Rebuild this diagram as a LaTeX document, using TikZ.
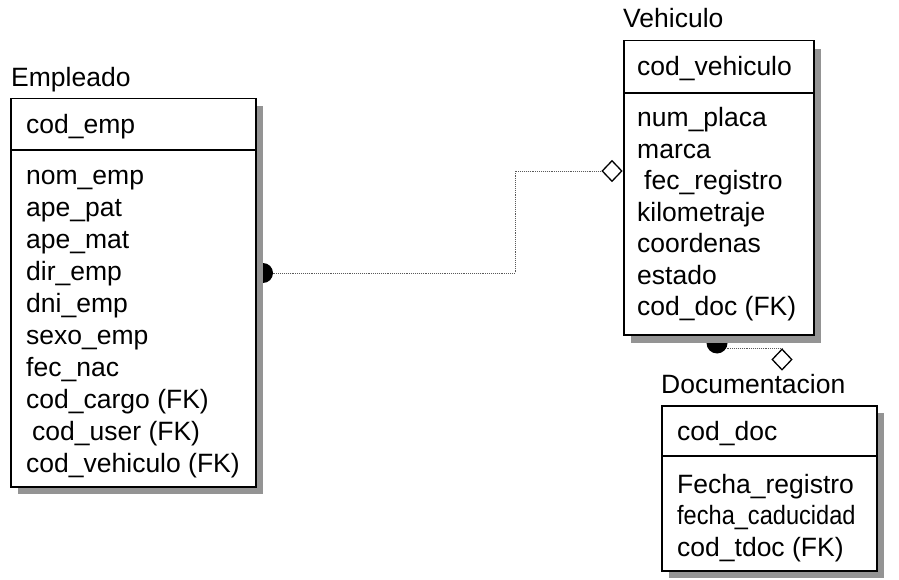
\documentclass[tikz,border=0pt]{standalone}
\usepackage{fontspec}
\setmainfont{Liberation Sans}
\usetikzlibrary{shapes.geometric}
\begin{document}
\begin{tikzpicture}[x=1pt,y=-1pt,
  font=\fontsize{26.5}{30}\selectfont,
  entbox/.style={draw, line width=1.5pt, fill=white, inner sep=0pt, anchor=north west},
  shadowbox/.style={fill=black!42, draw=none},
  divider/.style={line width=1.3pt},
  attr/.style={anchor=base west, inner sep=0pt},
  ttl/.style={anchor=base west, inner sep=0pt},
  rel/.style={draw=black!65, densely dotted, line width=0.9pt},
  optdiamond/.style={diamond, draw, fill=white, line width=1.3pt, minimum width=20pt, minimum height=21pt, inner sep=0pt, aspect=1}
]
\useasboundingbox (0,0) rectangle (899,580);
\fill[white] (0,0) rectangle (899,580);

% ---------- Empleado ----------
\fill[shadowbox] (18,106) rectangle (263,494);
\node[entbox, minimum width=245pt, minimum height=388pt] (emp) at (10,98) {};
\draw[divider] (10,150) -- (255,150);
\node[ttl] (empT) at (11,87) {Empleado};
\node[attr] (e0) at (26,134) {cod\_emp};
\node[attr] (e1) at (26,185) {nom\_emp};
\node[attr] (e2) at (26,216.9) {ape\_pat};
\node[attr] (e3) at (26,248.8) {ape\_mat};
\node[attr] (e4) at (26,280.7) {dir\_emp};
\node[attr] (e5) at (26,312.6) {dni\_emp};
\node[attr] (e6) at (26,344.5) {sexo\_emp};
\node[attr] (e7) at (26,376.4) {fec\_nac};
\node[attr] (e8) at (26,408.3) {cod\_cargo (FK)};
\node[attr] (e9) at (32,440.2) {cod\_user (FK)};
\node[attr] (e10) at (26,472.1) {cod\_vehiculo (FK)};

% ---------- Vehiculo ----------
\fill[shadowbox] (631,49) rectangle (821,343);
\node[entbox, minimum width=190pt, minimum height=294pt] (veh) at (623,40) {};
\draw[divider] (623,93) -- (813,93);
\node[ttl] (vehT) at (623,28) {Vehiculo};
\node[attr] (v0) at (637,76) {cod\_vehiculo};
\node[attr] (v1) at (637,127) {num\_placa};
\node[attr] (v2) at (637,158.4) {marca};
\node[attr] (v3) at (644,189.8) {fec\_registro};
\node[attr] (v4) at (637,221.2) {kilometraje};
\node[attr] (v5) at (637,252.6) {coordenas};
\node[attr] (v6) at (637,284) {estado};
\node[attr] (v7) at (637,315.4) {cod\_doc (FK)};

% ---------- Documentacion ----------
\fill[shadowbox] (669,413) rectangle (884,578);
\node[entbox, minimum width=215pt, minimum height=165pt] (doc) at (661,405) {};
\draw[divider] (661,456) -- (876,456);
\node[ttl] (docT) at (661,393) {Documentacion};
\node[attr] (d0) at (677,440) {cod\_doc};
\node[attr] (d1) at (677,493) {Fecha\_registro};
\node[attr, xscale=0.89, transform shape] (d2) at (677,524.5) {fecha\_caducidad};
\node[attr] (d3) at (677,556) {cod\_tdoc (FK)};

% ---------- Relationship Empleado - Vehiculo ----------
\coordinate (empR) at (263,273);
\node[optdiamond] (dm1) at (612,171) {};
\draw[rel] (empR) -- ++(252,0) |- (dm1.west);
\fill (empR) ++(0,-10) arc[start angle=-90, end angle=90, radius=10] -- cycle;

% ---------- Relationship Vehiculo - Documentacion ----------
\coordinate (vehB) at (717,343);
\node[optdiamond] (dm2) at (782,359.5) {};
\draw[rel] (vehB |- dm2.north) -- (dm2.north);
\fill (vehB) ++(-10.5,0) arc[start angle=180, end angle=0, radius=10.5] -- cycle;
\end{tikzpicture}
\end{document}
